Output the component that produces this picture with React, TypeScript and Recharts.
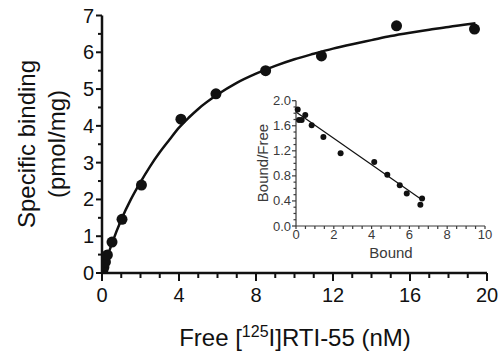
import { ComposedChart, Scatter, Line, XAxis, YAxis } from 'recharts';

// saturation binding points (free nM, specific binding pmol/mg)
const freeConc = [0.05, 0.1, 0.18, 0.28, 0.52, 1.04, 2.05, 4.1, 5.92, 8.5, 11.4, 15.3, 19.35];
const specBinding = [0.09, 0.16, 0.3, 0.49, 0.84, 1.46, 2.39, 4.18, 4.87, 5.5, 5.9, 6.72, 6.63];

// fitted curve
const fitX = [0, 0.25, 0.5, 1, 1.5, 2, 2.5, 3, 3.5, 4, 4.5, 5, 6, 7, 8, 9, 10, 11, 12, 13, 14, 15, 16, 17, 18, 19, 19.4];
const fitY = [0, 0.4, 0.78, 1.45, 2.0, 2.47, 2.9, 3.28, 3.62, 3.95, 4.22, 4.46, 4.85, 5.17, 5.42, 5.63, 5.81, 5.96, 6.1, 6.22, 6.33, 6.44, 6.53, 6.61, 6.69, 6.76, 6.79];

// scatchard inset
const bound = [0.09, 0.16, 0.3, 0.49, 0.83, 1.45, 2.36, 4.14, 4.83, 5.49, 5.86, 6.58, 6.67];
const boundFree = [1.86, 1.69, 1.69, 1.77, 1.61, 1.42, 1.16, 1.02, 0.82, 0.65, 0.52, 0.34, 0.44];
const regX = [0, 6.7];
const regY = [1.82, 0.41];

const xTicks = [0, 1, 2, 3, 4, 5, 6, 7, 8, 9, 10, 11, 12, 13, 14, 15, 16, 17, 18, 19, 20];
const xLabels = [0, 4, 8, 12, 16, 20];
const yTicks = [0, 0.5, 1, 1.5, 2, 2.5, 3, 3.5, 4, 4.5, 5, 5.5, 6, 6.5, 7];
const yLabels = [0, 1, 2, 3, 4, 5, 6, 7];
const insetXTicks = [0, 0.5, 1, 1.5, 2, 2.5, 3, 3.5, 4, 4.5, 5, 5.5, 6, 6.5, 7, 7.5, 8, 8.5, 9, 9.5, 10];
const insetXLabels = [0, 2, 4, 6, 8, 10];
const insetYTicks = [0, 0.1, 0.2, 0.3, 0.4, 0.5, 0.6, 0.7, 0.8, 0.9, 1, 1.1, 1.2, 1.3, 1.4, 1.5, 1.6, 1.7, 1.8, 1.9, 2];
const insetYLabels = ['0.0', '0.4', '0.8', '1.2', '1.6', '2.0'];

const points = freeConc.map((x, i) => ({ x, y: specBinding[i] }));
const fit = fitX.map((x, i) => ({ x, y: fitY[i] }));
const scatchard = bound.map((x, i) => ({ x, y: boundFree[i] }));
const reg = regX.map((x, i) => ({ x, y: regY[i] }));

const FONT = '"Liberation Sans", Arial, sans-serif';
const INK = '#111';
const GREY = '#3a3a3a';

const MainXTick = (props: any) => {
  const { x, y, payload } = props;
  const major = xLabels.includes(payload.value);
  return (
    <g>
      <line x1={x} y1={y} x2={x} y2={y + (major ? 8 : 5)} stroke={INK} strokeWidth={2} />
      {major && (
        <text x={x} y={y + 29} textAnchor="middle" fontSize={20} fontFamily={FONT} fill={INK}>
          {payload.value}
        </text>
      )}
    </g>
  );
};

const MainYTick = (props: any) => {
  const { x, y, payload } = props;
  const major = yLabels.includes(payload.value);
  return (
    <g>
      <line x1={x} y1={y} x2={x - (major ? 6 : 4)} y2={y} stroke={INK} strokeWidth={2} />
      {major && (
        <text x={x - 8} y={y + 7} textAnchor="end" fontSize={20} fontFamily={FONT} fill={INK}>
          {payload.value}
        </text>
      )}
    </g>
  );
};

const InsetXTick = (props: any) => {
  const { x, y, payload } = props;
  const major = insetXLabels.includes(payload.value);
  return (
    <g>
      <line x1={x} y1={y} x2={x} y2={y + 3} stroke={GREY} strokeWidth={1.2} />
      {major && (
        <text x={x} y={y + 13} textAnchor="middle" fontSize={13} fontFamily={FONT} fill={GREY}>
          {payload.value}
        </text>
      )}
    </g>
  );
};

const InsetYTick = (props: any) => {
  const { x, y, payload } = props;
  const label = insetYLabels.find((l) => Number(l) === payload.value);
  return (
    <g>
      <line x1={x} y1={y} x2={x - (label ? 4 : 2.5)} y2={y} stroke={GREY} strokeWidth={1.2} />
      {label && (
        <text x={x - 5} y={y + 4.5} textAnchor="end" fontSize={13} fontFamily={FONT} fill={GREY}>
          {label}
        </text>
      )}
    </g>
  );
};

const BigDot = (props: any) => <circle cx={props.cx} cy={props.cy} r={5.5} fill={INK} />;
const SmallDot = (props: any) => <circle cx={props.cx} cy={props.cy} r={3} fill={INK} />;

export default function App() {
  return (
    <div style={{ position: 'absolute', left: 0, top: 0, width: 503, height: 354, background: '#fff' }}>
      <ComposedChart width={503} height={354} margin={{ top: 15.5, right: 16, left: 0, bottom: 0 }}>
        <XAxis
          dataKey="x"
          type="number"
          domain={[0, 20]}
          ticks={xTicks}
          interval={0}
          tickSize={0}
          tickMargin={0}
          tick={<MainXTick />}
          height={81}
          axisLine={{ stroke: INK, strokeWidth: 2.5 }}
          allowDataOverflow
        />
        <YAxis
          dataKey="y"
          type="number"
          domain={[0, 7]}
          ticks={yTicks}
          interval={0}
          tickSize={0}
          tickMargin={0}
          tick={<MainYTick />}
          width={102}
          axisLine={{ stroke: INK, strokeWidth: 2.5 }}
          allowDataOverflow
        />
        <Line data={fit} dataKey="y" type="monotone" stroke={INK} strokeWidth={2.5} dot={false} isAnimationActive={false} />
        <Scatter data={points} dataKey="y" fill={INK} shape={<BigDot />} isAnimationActive={false} />
      </ComposedChart>

      <div style={{ position: 'absolute', left: 250, top: 90 }}>
        <ComposedChart width={250} height={175} margin={{ top: 10.7, right: 15, left: 0, bottom: 0 }}>
          <XAxis
            dataKey="x"
            type="number"
            domain={[0, 10]}
            ticks={insetXTicks}
            interval={0}
            tickSize={0}
            tickMargin={0}
            tick={<InsetXTick />}
            height={39}
            axisLine={{ stroke: GREY, strokeWidth: 1.2 }}
          />
          <YAxis
            dataKey="y"
            type="number"
            domain={[0, 2]}
            ticks={insetYTicks}
            interval={0}
            tickSize={0}
            tickMargin={0}
            tick={<InsetYTick />}
            width={46}
            axisLine={{ stroke: GREY, strokeWidth: 1.2 }}
          />
          <Line data={reg} dataKey="y" type="linear" stroke={INK} strokeWidth={1.2} dot={false} isAnimationActive={false} />
          <Scatter data={scatchard} dataKey="y" fill={INK} shape={<SmallDot />} isAnimationActive={false} />
        </ComposedChart>
      </div>

      <svg width={503} height={354} style={{ position: 'absolute', left: 0, top: 0, pointerEvents: 'none' }}>
        <g fontFamily={FONT} fill={INK}>
          <text transform="translate(35,144) rotate(-90)" textAnchor="middle" fontSize={24}>
            Specific binding
          </text>
          <text transform="translate(65,144) rotate(-90)" textAnchor="middle" fontSize={24}>
            (pmol/mg)
          </text>
          <text x={295} y={346} textAnchor="middle" fontSize={24}>
            <tspan>Free [</tspan>
            <tspan dy={-9} fontSize={16}>125</tspan>
            <tspan dy={9}>I]RTI-55 (nM)</tspan>
          </text>
        </g>
        <g fontFamily={FONT} fill={GREY}>
          <text x={391} y={258} textAnchor="middle" fontSize={15}>
            Bound
          </text>
          <text transform="translate(268,163) rotate(-90)" textAnchor="middle" fontSize={15}>
            Bound/Free
          </text>
        </g>
      </svg>
    </div>
  );
}
